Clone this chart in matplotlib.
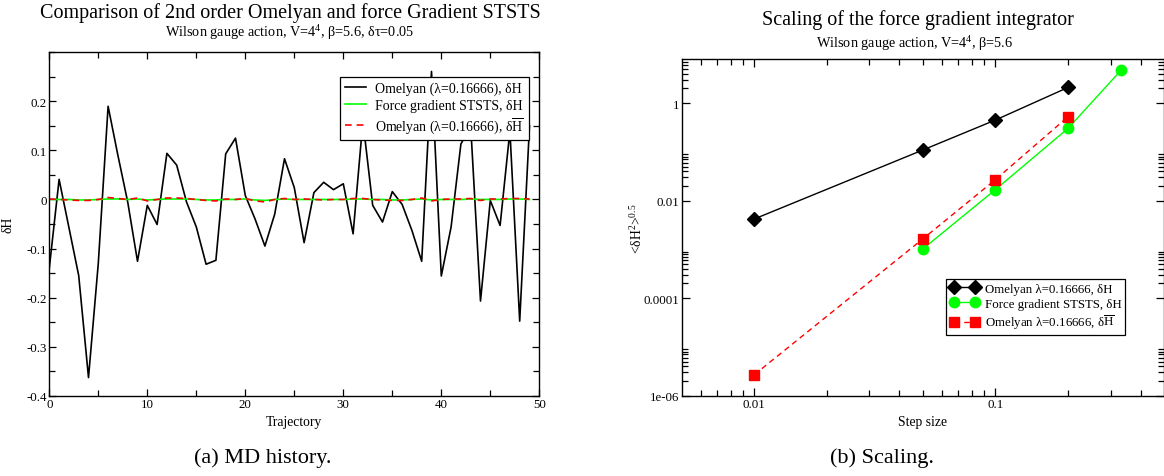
import numpy as np
import matplotlib
matplotlib.use("Agg")
import matplotlib.pyplot as plt
from matplotlib.ticker import FixedLocator, FixedFormatter, MultipleLocator, NullFormatter

plt.rcParams['font.family'] = ['Liberation Serif', 'DejaVu Serif']
plt.rcParams['mathtext.fontset'] = 'custom'
plt.rcParams['mathtext.rm'] = 'Liberation Serif'
plt.rcParams['mathtext.it'] = 'Liberation Serif:italic'
plt.rcParams['mathtext.bf'] = 'Liberation Serif:bold'

# ---------------- data: left panel (MD history) ----------------
trajectory = list(range(50))
omelyan_dH = [-0.14, 0.041, -0.057, -0.155, -0.363, -0.13, 0.19, 0.09, -0.005, -0.126,
              -0.012, -0.051, 0.094, 0.070, -0.005, -0.056, -0.132, -0.124, 0.093, 0.125,
              0.008, -0.04, -0.095, -0.03, 0.083, 0.024, -0.088, 0.014, 0.035, 0.02,
              0.032, -0.07, 0.16, -0.012, -0.046, 0.016, -0.01, -0.063, -0.126, 0.261,
              -0.156, -0.056, 0.113, 0.15, -0.207, -0.002, -0.053, 0.14, -0.248, 0.15]
fg_dH = [0.000, 0.000, 0.000, -0.001, -0.001, 0.000, 0.001, 0.001, 0.000, 0.001,
         -0.001, 0.000, 0.001, 0.001, 0.001, 0.000, -0.001, -0.001, 0.000, 0.000,
         0.001, -0.001, -0.002, 0.000, 0.001, 0.000, 0.000, 0.000, 0.000, 0.000,
         0.000, 0.001, 0.001, 0.000, 0.000, -0.001, -0.001, 0.000, 0.001, -0.001,
         0.000, 0.000, 0.000, 0.001, 0.000, 0.000, 0.000, 0.001, 0.001, 0.000]
omelyan_dHbar = [0.001, 0.000, -0.001, -0.002, -0.002, 0.000, 0.004, 0.002, 0.000, 0.003,
                 -0.003, 0.000, 0.003, 0.003, 0.002, 0.000, -0.002, -0.003, 0.001, 0.000,
                 0.002, -0.003, -0.005, 0.000, 0.002, 0.000, 0.001, 0.000, -0.001, 0.000,
                 0.000, 0.002, 0.002, 0.000, -0.001, -0.002, -0.002, 0.000, 0.003, -0.003,
                 0.000, 0.001, 0.001, 0.002, -0.002, 0.001, 0.001, 0.002, 0.002, 0.001]

# ---------------- data: right panel (scaling) ----------------
step_omelyan = [0.01, 0.05, 0.1, 0.2]
rms_omelyan = [0.0042, 0.109, 0.449, 2.09]
step_fg = [0.05, 0.1, 0.2, 0.333]
rms_fg = [0.00102, 0.0168, 0.303, 4.8]
step_omelyan_bar = [0.01, 0.05, 0.1, 0.2]
rms_omelyan_bar = [2.69e-6, 0.00164, 0.0269, 0.525]

W, H = 1164, 477
fig = plt.figure(figsize=(W / 100, H / 100), dpi=100)

def fx(px):
    return px / W

def fy(py):
    return 1 - py / H

tick_fs = 9.3
label_fs = 9.8

# ---------------- left panel ----------------
axL_box = (49.3, 396.7, 490.0, 343.4)
axL = fig.add_axes([fx(axL_box[0]), fy(axL_box[1]), fx(axL_box[2]), axL_box[3] / H])
axL.plot(trajectory, omelyan_dH, color='black', lw=1.2,
         label='Omelyan (λ=0.16666), δH')
axL.plot(trajectory, fg_dH, color='#00ff00', lw=1.2,
         label='Force gradient STSTS, δH')
axL.plot(trajectory, omelyan_dHbar, color='#ff0000', lw=1.2, ls=(0, (4, 3)),
         label=r'Omelyan (λ=0.16666), δ$\overline{\mathrm{H}}$')
axL.set_xlim(0, 50)
axL.set_ylim(-0.4, 0.3)
axL.xaxis.set_major_locator(MultipleLocator(10))
axL.xaxis.set_minor_locator(MultipleLocator(5))
axL.yaxis.set_major_locator(FixedLocator([-0.4, -0.3, -0.2, -0.1, 0.0, 0.1, 0.2]))
axL.yaxis.set_major_formatter(FixedFormatter(['-0.4', '-0.3', '-0.2', '-0.1', '0', '0.1', '0.2']))
axL.yaxis.set_minor_locator(FixedLocator([-0.35, -0.25, -0.15, -0.05, 0.05, 0.15, 0.25, 0.3]))
axL.tick_params(which='both', direction='in', top=True, right=True, labelsize=tick_fs,
                width=0.9, pad=2)
axL.tick_params(which='major', length=5)
axL.tick_params(which='minor', length=4.5)
for s in axL.spines.values():
    s.set_linewidth(1.0)
axL.set_xlabel('Trajectory', fontsize=label_fs, labelpad=3)
axL.set_ylabel('δH', fontsize=label_fs)
axL.yaxis.set_label_coords((14 - 49.3) / 490.0, 0.5)
legL = axL.legend(loc='upper right', bbox_to_anchor=(0.979, 0.928), fontsize=10,
                  frameon=True, fancybox=False, framealpha=1, edgecolor='black',
                  handlelength=1.5, borderpad=0.35, labelspacing=0.25, handletextpad=0.7,
                  borderaxespad=0)
legL.get_frame().set_linewidth(0.9)

fig.text(fx(290), fy(13), 'Comparison of 2nd order Omelyan and force Gradient STSTS',
         ha='center', va='center', fontsize=14.5)
fig.text(fx(290), fy(33), 'Wilson gauge action, V=4$^4$, β=5.6, δτ=0.05',
         ha='center', va='center', fontsize=10.3)

# ---------------- right panel ----------------
axR_box = (681.7, 396.7, 482.3, 336.7)
axR = fig.add_axes([fx(axR_box[0]), fy(axR_box[1]), fx(axR_box[2]), axR_box[3] / H])
axR.plot(step_omelyan, rms_omelyan, color='black', lw=1.0, marker='D', ms=7,
         label='Omelyan λ=0.16666, δH')
axR.plot(step_fg, rms_fg, color='#00ff00', lw=1.0, marker='o', ms=7.5,
         label='Force gradient STSTS, δH')
axR.plot(step_omelyan_bar, rms_omelyan_bar, color='#ff0000', lw=1.0, ls=(0, (4, 3)),
         marker='s', ms=6.5, label=r'Omelyan λ=0.16666, δ$\overline{\mathrm{H}}$')
axR.set_xscale('log')
axR.set_yscale('log')
axR.set_xlim(0.005, 0.5)
axR.set_ylim(1e-6, 8)
axR.xaxis.set_major_locator(FixedLocator([0.01, 0.1]))
axR.xaxis.set_major_formatter(FixedFormatter(['0.01', '0.1']))
xminor = [m * 10.0 ** e for e in (-3, -2, -1) for m in range(2, 10)]
xminor = [v for v in xminor if 0.005 < v < 0.5]
axR.xaxis.set_minor_locator(FixedLocator(xminor))
axR.xaxis.set_minor_formatter(NullFormatter())
axR.yaxis.set_major_locator(FixedLocator([1e-6, 1e-4, 1e-2, 1]))
axR.yaxis.set_major_formatter(FixedFormatter(['1e-06', '0.0001', '0.01', '1']))
yminor = [m * 10.0 ** e for e in (-6, -4, -2, 0) for m in range(2, 10)]
yminor = [v for v in yminor if 1e-6 < v < 8]
axR.yaxis.set_minor_locator(FixedLocator(yminor))
axR.yaxis.set_minor_formatter(NullFormatter())
axR.tick_params(which='both', direction='in', top=True, right=True, labelsize=tick_fs,
                width=0.9, pad=2)
axR.tick_params(which='major', length=6)
axR.tick_params(which='minor', length=4)
for s in axR.spines.values():
    s.set_linewidth(1.0)
axR.set_xlabel('Step size', fontsize=label_fs, labelpad=3)
axR.set_ylabel('<δH$^2$>$^{0.5}$', fontsize=label_fs)
axR.yaxis.set_label_coords((645 - 681.7) / 482.3, 0.5)
legR = axR.legend(loc='lower left', bbox_to_anchor=(0.549, 0.18), fontsize=9.3,
                  frameon=True, fancybox=False, framealpha=1, edgecolor='black',
                  handlelength=2.2, numpoints=2, borderpad=0.3, labelspacing=0.25,
                  handletextpad=0.45, borderaxespad=0)
legR.get_frame().set_linewidth(0.9)

fig.text(fx(918), fy(20), 'Scaling of the force gradient integrator',
         ha='center', va='center', fontsize=14.5)
fig.text(fx(915), fy(44), 'Wilson gauge action, V=4$^4$, β=5.6',
         ha='center', va='center', fontsize=10.3)

# captions
fig.text(fx(263), fy(458), '(a) MD history.', ha='center', va='center', fontsize=16)
fig.text(fx(882), fy(458), '(b) Scaling.', ha='center', va='center', fontsize=16)

fig.savefig('out.png', dpi=100)
